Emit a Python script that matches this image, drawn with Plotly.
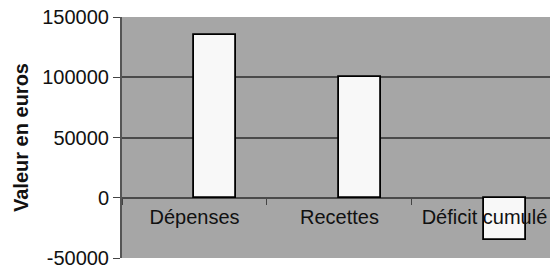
import plotly.graph_objects as go

categories = ["Dépenses", "Recettes", "Déficit cumulé"]
values = [135000, 100000, -35000]
y_ticks = [-50000, 0, 50000, 100000, 150000]
y_title = "Valeur en euros"

FONT = "Liberation Sans, Arial, sans-serif"

fig = go.Figure()
fig.add_trace(go.Bar(
    x=categories, y=values,
    width=0.283, offset=0.0,
    marker=dict(color="#f8f8f8", line=dict(color="#000000", width=1.8)),
    showlegend=False,
))

fig.update_layout(
    width=550, height=266,
    margin=dict(l=122, r=0, t=17, b=8, pad=0),
    plot_bgcolor="#a6a6a6",
    paper_bgcolor="#ffffff",
    font=dict(family=FONT, size=20, color="#111111"),
    bargap=0,
)

fig.update_xaxes(
    type="category",
    range=[-0.5, 2.452],
    anchor="free", position=0.25,
    automargin=False,
    showline=False, showgrid=False, zeroline=False,
    ticks="outside", tickson="boundaries", ticklen=6, tickwidth=1, tickcolor="#444444",
    ticklabelstandoff=5,
    ticklabeloverflow="allow",
    tickfont=dict(family=FONT, size=20, color="#111111"),
)

fig.update_yaxes(
    range=[-50000, 150000],
    automargin=False,
    tickvals=y_ticks, ticktext=[str(v) for v in y_ticks],
    showgrid=True, gridcolor="#4a4a4a", gridwidth=1.5,
    zeroline=True, zerolinecolor="#4a4a4a", zerolinewidth=1.5,
    showline=True, linecolor="#555555", linewidth=2,
    ticks="outside", ticklen=7, tickwidth=1, tickcolor="#444444",
    ticklabelstandoff=0,
    ticklabeloverflow="allow",
    tickfont=dict(family=FONT, size=20, color="#111111"),
    title=dict(text="<b>" + y_title + "</b>", font=dict(family=FONT, size=20, color="#111111"), standoff=8),
)

fig.write_html(
    "out.html",
    config={"displayModeBar": False},
    post_script="document.body.style.margin='0';document.body.style.overflow='hidden';",
)
